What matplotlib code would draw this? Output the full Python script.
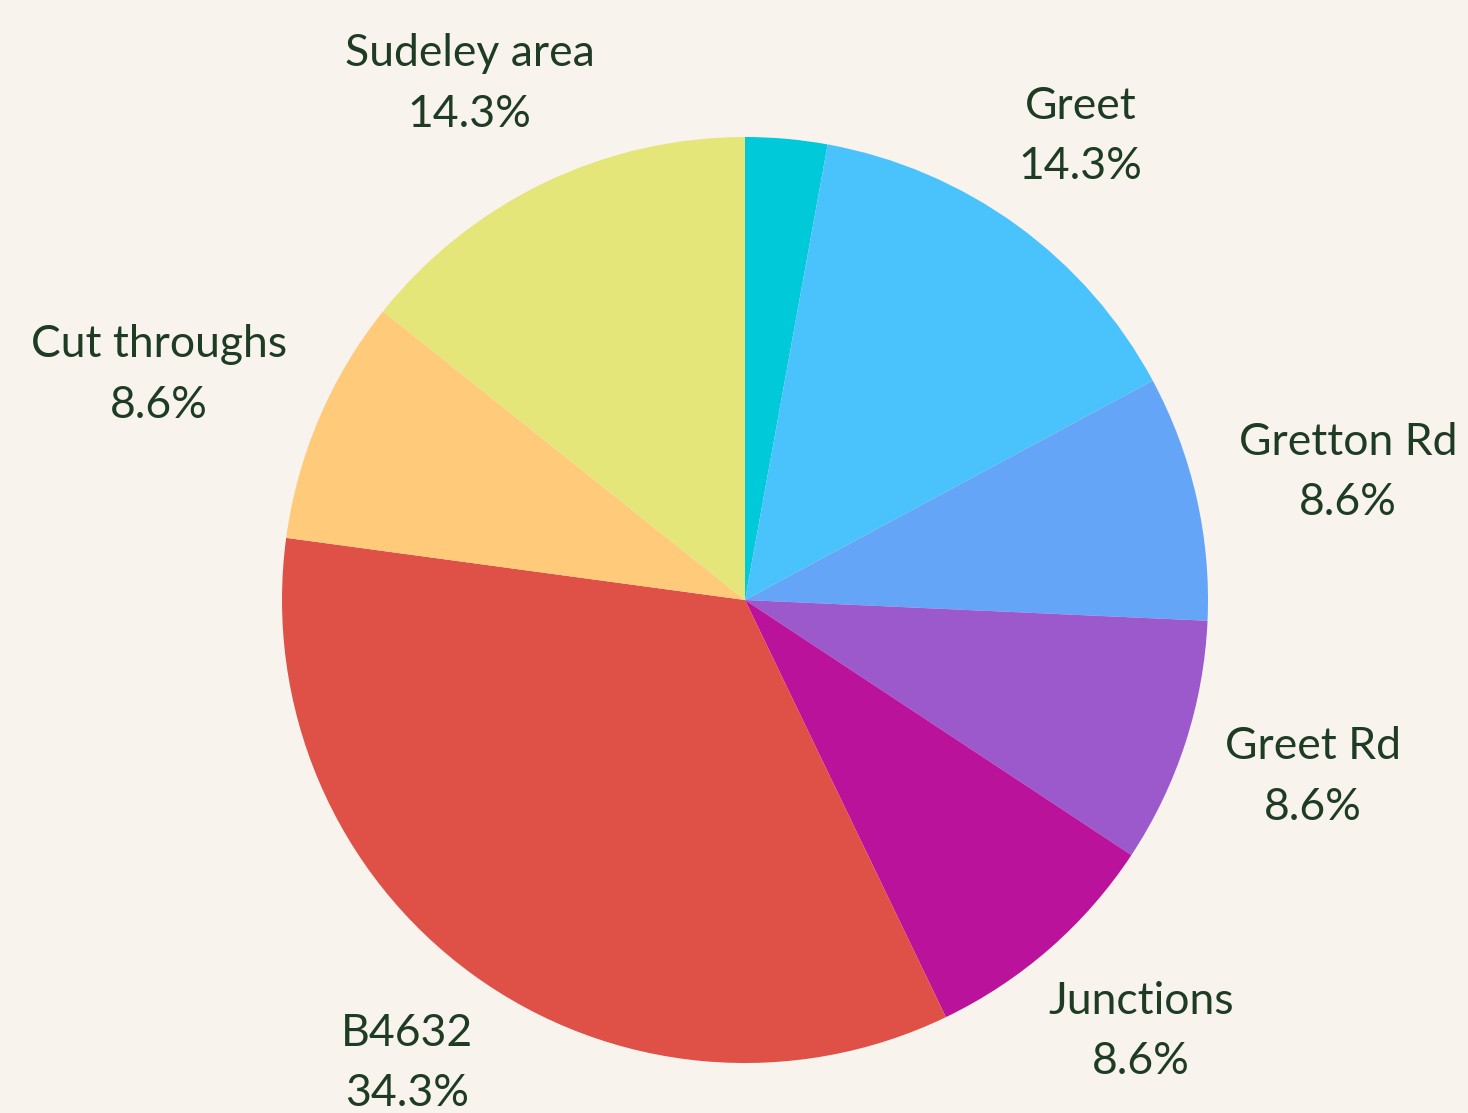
import numpy as np
import matplotlib
matplotlib.use("Agg")
import matplotlib.pyplot as plt

# slices clockwise from 12 o'clock
labels = ["Other", "Greet", "Gretton Rd", "Greet Rd", "Junctions",
          "B4632", "Cut throughs", "Sudeley area"]
counts = [1, 5, 3, 3, 3, 12, 3, 5]
colors = ["#00c9da", "#4ac3fd", "#64a5f8", "#9b59cb", "#bb129c",
          "#df5047", "#ffcb7a", "#e5e67a"]

BG = "#f8f3ed"
INK = "#1e3b24"
W, H = 1468, 1113
cx, cy, R = 745, 513, 463

fig = plt.figure(figsize=(W / 100, H / 100), dpi=100, facecolor=BG)
ax = fig.add_axes([0, 0, 1, 1])
ax.set_facecolor(BG)

wedges, _ = ax.pie(counts, colors=colors, startangle=90, counterclock=False,
                   center=(cx, cy), radius=R,
                   wedgeprops=dict(linewidth=0))
ax.set_xlim(0, W)
ax.set_ylim(0, H)
ax.set_aspect("equal")
ax.axis("off")

total = sum(counts)
renderer = fig.canvas.get_renderer()
for w, lab, n in zip(wedges, labels, counts):
    pct = 100 * n / total
    if pct < 5:
        continue
    theta = np.deg2rad((w.theta1 + w.theta2) / 2)
    c, s = np.cos(theta), np.sin(theta)
    t = ax.text(0, 0, f"{lab}\n{pct:.1f}%", ha="center", va="center",
                fontsize=32, color=INK, family="Lato", linespacing=1.6)
    bb = t.get_window_extent(renderer)
    hw, hh = bb.width / 2, bb.height / 2
    r0 = R * 1.1
    t.set_position((cx + r0 * c + c * hw, cy + r0 * s + s * hh * 1.25))

fig.savefig("out.png", dpi=100, facecolor=BG)
